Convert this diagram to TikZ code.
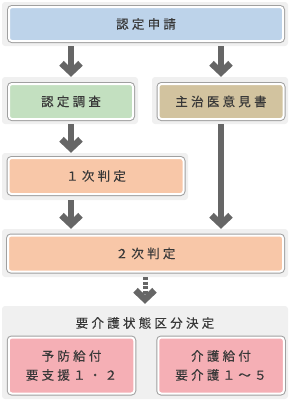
\documentclass[tikz,border=0pt]{standalone}
\usepackage{fontspec}
\newfontfamily\jpfont[LetterSpace=26,FakeBold=0.3]{Noto Sans CJK JP}
\usetikzlibrary{arrows.meta}
\definecolor{panelgray}{HTML}{F0F0F0}
\definecolor{linegray}{HTML}{A0A0A0}
\definecolor{arrowgray}{HTML}{666666}
\definecolor{textgray}{HTML}{383838}
\definecolor{applyblue}{HTML}{BDD3EA}
\definecolor{surveygreen}{HTML}{C3E0C0}
\definecolor{opiniontan}{HTML}{D2C39F}
\definecolor{judgesalmon}{HTML}{F8C7A8}
\definecolor{resultpink}{HTML}{F5AFB5}

\begin{document}
\begin{tikzpicture}[x=1pt,y=-1pt,
  panel/.style={fill=panelgray,inner sep=0,rounded corners=3pt},
  stepbox/.style={fill=#1,draw=white,line width=2pt,rounded corners=3pt,inner sep=0,
    preaction={draw=linegray,line width=4pt},
    font=\jpfont\fontsize{12.5}{19}\selectfont,text=textgray,align=center},
  flow/.style={draw=arrowgray,line width=6.5pt,-{Straight Barb[length=9pt,width=19pt,line width=6.5pt]}}]
  \useasboundingbox (0,0) rectangle (290,400);
  % grey panels behind the boxes
  \node[panel,minimum width=286,minimum height=44] (pApply) at (145,24) {};
  \node[panel,minimum width=136,minimum height=47] (pSurvey) at (70,100.5) {};
  \node[panel,minimum width=136,minimum height=47] (pOpinion) at (220,100.5) {};
  \node[panel,minimum width=186,minimum height=47] (pFirst) at (95,176.5) {};
  \node[panel,minimum width=286,minimum height=48] (pSecond) at (145,253) {};
  \node[panel,minimum width=286,minimum height=93] (pResult) at (145,352.5) {};
  % boxes
  \node[stepbox=applyblue,minimum width=274,minimum height=34] (apply) at (146,24) {認定申請};
  \node[stepbox=surveygreen,minimum width=124,minimum height=35] (survey) at (71,101.5) {認定調査};
  \node[stepbox=opiniontan,minimum width=125,minimum height=35] (opinion) at (221,101.5) {主治医意見書};
  \node[stepbox=judgesalmon,minimum width=175,minimum height=36] (first) at (96,176) {１次判定};
  \node[stepbox=judgesalmon,minimum width=275,minimum height=36] (second) at (145.5,253.5) {２次判定};
  \node[font=\jpfont\fontsize{12.5}{19}\selectfont,text=textgray] (decide) at (145,323) {要介護状態区分決定};
  \node[stepbox=resultpink,minimum width=125.5,minimum height=56] (prevent) at (71.5,365.5) {予防給付\\要支援１・２};
  \node[stepbox=resultpink,minimum width=125.5,minimum height=56] (care) at (221,365.5) {介護給付\\要介護１～５};
  % arrows
  \draw[flow] (pApply.south -| survey) -- (pSurvey.north -| survey);
  \draw[flow] (pApply.south -| opinion) -- (pOpinion.north -| opinion);
  \draw[flow] (pSurvey.south -| survey) -- (pFirst.north -| survey);
  \draw[flow] (pFirst.south -| survey) -- (pSecond.north -| survey);
  \draw[flow] (pOpinion.south -| opinion) -- (pSecond.north -| opinion);
  \draw[flow,line width=5pt,dash pattern=on 3pt off 1.5pt,shorten >=2pt] (pSecond.south) -- (pResult.north);
\end{tikzpicture}
\end{document}
